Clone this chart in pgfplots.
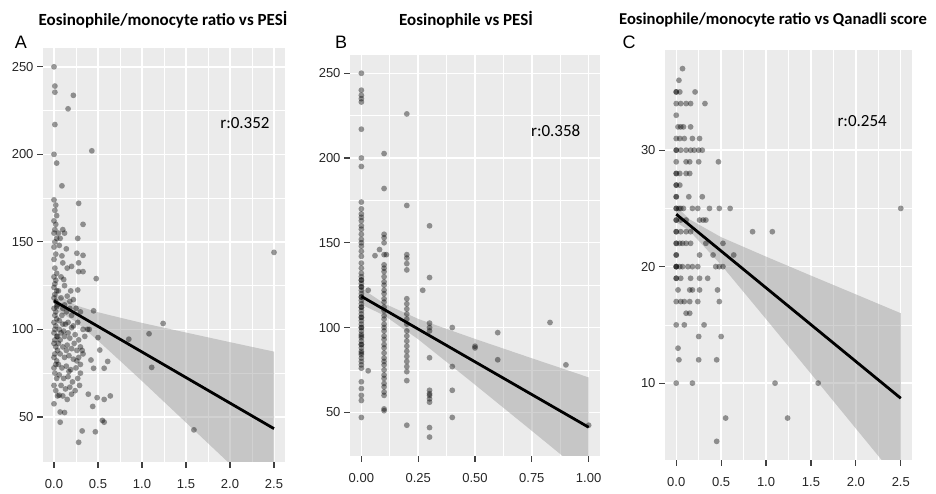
\documentclass[border=0pt]{standalone}
\usepackage{pgfplots}
\pgfplotsset{compat=1.18}
\usepackage{fontspec}
\setmainfont{Liberation Sans}
\newfontfamily\calib{Carlito}
\definecolor{ggbg}{HTML}{EBEBEB}
\definecolor{ggband}{HTML}{999999}

\pgfplotsset{
  ggpanel/.style={
    scale only axis,
    anchor=south west,
    axis background/.style={fill=ggbg},
    axis line style={draw=none},
    grid=both,
    minor tick num=1,
    major grid style={white, line width=1.4pt},
    minor grid style={white, line width=0.7pt},
    tick align=outside,
    major tick length=6pt,
    minor tick length=0pt,
    tick style={black!75, line width=1.2pt},
    tick label style={font=\fontsize{13}{13}\selectfont, text=black!85},
    xticklabel style={yshift=-8pt},
    /pgf/number format/assume math mode=true,
    xtick pos=bottom, ytick pos=left,
  },
  pts/.style={only marks, mark=*, mark size=2.9pt,
    mark options={draw opacity=0, fill=black, fill opacity=0.4}},
  band/.style={draw=none, fill=ggband, fill opacity=0.45},
  fit/.style={black, line width=2.8pt, no marks},
}

\begin{document}
\begin{tikzpicture}
\path[use as bounding box] (0pt,0pt) rectangle (936pt,494pt);

% ---------- A ----------
\begin{axis}[ggpanel, at={(43pt,32pt)}, width=242pt, height=414pt,
  xmin=-0.125, xmax=2.625, ymin=24.25, ymax=260.75,
  xtick={0,0.5,1,1.5,2,2.5}, xticklabels={0.0,0.5,1.0,1.5,2.0,2.5},
  ytick={50,100,150,200,250}]
\addplot[pts] coordinates {
(0,250)(0.01,239)(0.01,235.5)(0.22,233.7)(0.16,226)(0.01,217)(0.43,202)(0,200)(0.03,195)
(0.09,182)(0.28,172)(0.33,160)(0.1,157)(0.27,152)(0.14,146)(0.26,143.5)(0.33,142.3)(0.09,142)
(0.1,138)(0.2,136)(0.28,138)(0.28,133)(0.33,133)(0.48,129)(0.11,128.5)(0.19,122)(0.27,122.5)
(0.45,110.6)(0.4,100)(1.24,103.4)(1.08,97.5)(0.85,94.4)(1.11,78.3)(1.59,42.6)(2.5,144)
(0,174)(0.02,171)(0.01,168)(0.03,165)(0,162)(0.02,160)(0.01,157)(0,155)(0.03,152)(0.01,150)
(0,147)(0.02,143)(0,140)(0.01,135)(0.03,132)(0,130)(0.02,128)(0.01,126)(0,124)(0.03,122)
(0.01,120)(0,118)(0.02,116)(0.04,114)(0,112)(0.02,110)(0.01,108)(0.03,106)(0,104)(0.02,102)
(0.01,100)(0,98)(0.03,96)(0.01,94)(0,92)(0.02,90)(0.04,88)(0.01,86)(0,84)(0.03,82)(0.02,80)
(0,78)(0.01,75)(0.03,72)(0,68)(0.02,65)(0.04,62)(0,57.5)(0.06,62.4)(0.07,52.8)(0.12,52.5)(0.07,47)
(0.05,155)(0.07,152)(0.06,148)(0.12,155)(0.15,135)(0.08,130)(0.12,125)(0.05,122)(0.08,118)
(0.15,119)(0.18,116)(0.22,117)(0.1,112)(0.14,110)(0.2,108)(0.25,112)(0.3,110)(0.06,105)
(0.1,103)(0.16,104)(0.22,102)(0.27,104)(0.33,100)(0.08,98)(0.12,96)(0.18,95)(0.24,97)(0.28,94)
(0.35,96)(0.05,92)(0.1,90)(0.15,91)(0.2,89)(0.26,88)(0.3,90)(0.07,86)(0.12,84)(0.17,85)
(0.22,83)(0.28,84)(0.33,86)(0.05,80)(0.09,78)(0.14,79)(0.19,77)(0.25,78)(0.3,80)(0.06,74)
(0.11,72)(0.16,73)(0.21,70)(0.27,72)(0.08,68)(0.13,66)(0.18,67)(0.24,65)(0.29,68)(0.1,62)
(0.15,60)(0.2,63)(0.3,75)(0.32,88)(0.04,96)(0.06,100)(0.09,108)(0.12,114)(0.16,98)(0.2,101)
(0.23,92)(0.26,82)(0.14,88)(0.17,76)(0.07,94)(0.11,99)(0.13,103)(0.18,112)(0.03,113)
(0.5,95.3)(0.52,88.2)(0.42,82.5)(0.61,81.7)(0.45,77.8)(0.57,77.8)(0.39,63)(0.49,61)(0.57,60)
(0.64,62)(0.44,56)(0.57,47)(0.32,42)(0.47,41.5)(0.28,35.5)(0.38,100)(0.55,48)
};
\addplot[band] coordinates {(0,120.9)(0.25,113.7)(0.5,109.8)(0.75,106.7)(1,103.7)(1.5,98.2)
  (2,92.7)(2.5,87.3)(2.5,-0.7)(2,23.1)(1.5,46.8)(1,70.5)(0.75,82.1)(0.5,93.6)(0.25,104.3)(0,111.7)} --cycle;
\addplot[fit] coordinates {(0,116.3)(2.5,43.3)};
\node[font=\calib\fontsize{17}{17}\selectfont] at (axis cs:2.17,218) {r:0.352};
\end{axis}

% ---------- B ----------
\begin{axis}[ggpanel, at={(350pt,38pt)}, width=250pt, height=401pt,
  xmin=-0.05, xmax=1.05, ymin=24.25, ymax=260.75,
  xtick={0,0.25,0.5,0.75,1}, xticklabels={0.00,0.25,0.50,0.75,1.00},
  ytick={50,100,150,200,250}]
\addplot[pts] coordinates {
(0,250)(0,240)(0,237)(0,235)(0,233)(0,217)(0,200)(0,195)
(0,174)(0,170)(0,167)(0,165)(0,163)(0,160)(0,158)(0,155)(0,152)(0,150)(0,148)(0,145)(0,142)
(0,138)(0,135)(0,132)(0,130)(0,128)(0,126)(0,124)(0,122)(0,120)(0,118)(0,116)(0,114)(0,112)
(0,110)(0,108)(0,106)(0,104)(0,102)(0,100)(0,98)(0,96)(0,94)(0,92)(0,90)(0,88)(0,86)(0,84)
(0,82)(0,80)(0,78)(0,76)(0,128)(0,124)(0,118)(0,112)(0,106)(0,100)(0,95)(0,90)(0,85)
(0,68)(0,64)(0,60)(0,57)(0,47)
(0.03,122)(0.03,74.5)(0.06,142.4)(0.08,146)(0.11,143)(0.27,122)
(0.1,202.6)(0.1,182)(0.1,155)(0.1,153)(0.1,150)(0.1,143)(0.1,137)(0.1,135)(0.1,133)(0.1,130)
(0.1,127)(0.1,125)(0.1,122)(0.1,120)(0.1,117)(0.1,115)(0.1,112)(0.1,110)(0.1,107)(0.1,105)
(0.1,102)(0.1,100)(0.1,98)(0.1,95)(0.1,93)(0.1,90)(0.1,88)(0.1,85)(0.1,82)(0.1,80)(0.1,78)
(0.1,75)(0.1,72)(0.1,70)(0.1,67)(0.1,65)(0.1,62)(0.1,60)(0.1,52)(0.1,51)
(0.2,226)(0.2,172)(0.2,143)(0.2,141)(0.2,137.7)(0.2,134)(0.2,117)(0.2,114)(0.2,111)(0.2,108)
(0.2,105)(0.2,102)(0.2,98)(0.2,95)(0.2,92)(0.2,89)(0.2,86)(0.2,83)(0.2,80)(0.2,77)(0.2,74)
(0.2,68.7)(0.2,42.4)
(0.3,160)(0.3,129.5)(0.3,102.6)(0.3,100)(0.3,98)(0.3,82.2)(0.3,63)(0.3,61)(0.3,60)(0.3,58)
(0.3,56)(0.3,41)(0.3,35.4)
(0.4,100)(0.4,77)(0.4,63)(0.4,47)(0.5,89)(0.5,88)(0.6,97)(0.6,81)(0.83,103)(0.9,78)(1,42.4)
};
\addplot[band] coordinates {(0,123.2)(0.1,114.2)(0.25,105.1)(0.5,93.3)(0.75,81.9)(1,70.6)
  (1,11.7)(0.75,39.1)(0.5,66.3)(0.25,93.1)(0.1,107.2)(0,113.6)} --cycle;
\addplot[fit] coordinates {(0,118.4)(1,41.2)};
\node[font=\calib\fontsize{17}{17}\selectfont] at (axis cs:0.855,216) {r:0.358};
\end{axis}

% ---------- C ----------
\begin{axis}[ggpanel, at={(665pt,34pt)}, width=247pt, height=410pt,
  xmin=-0.125, xmax=2.625, ymin=3.4, ymax=38.6,
  xtick={0,0.5,1,1.5,2,2.5}, xticklabels={0.0,0.5,1.0,1.5,2.0,2.5},
  ytick={10,20,30}]
\addplot[pts] coordinates {
(0.07,37)(0.03,36)(0,35)(0,35)(0.04,35)(0.21,35)
(0,34)(0.05,34)(0.11,34)(0.16,34)(0.32,34)(0,33)
(0.02,32)(0.05,32)(0.08,32)(0.16,32)
(0,31)(0.04,31)(0.09,31)(0.18,31)(0.26,31)
(0,30)(0,30)(0.05,30)(0.11,30)(0.16,30)(0.2,30)(0.25,30)(0.29,30)
(0,29)(0.11,29)(0.15,29)(0.25,29)(0.47,29)
(0,28)(0,28)(0.04,28)(0.11,28)(0.15,28)
(0,27)(0,27)(0.04,27)
(0,26)(0,26)(0.14,26)(0.29,26)
(0,25)(0,25)(0.03,25)(0.05,25)(0.08,25)(0.18,25)(0.24,25)(0.37,25)(0.48,25)(0.6,25)(2.5,25)
(0,24)(0,24)(0.05,24)(0.11,24)(0.26,24)(0.3,24)(0.33,24)
(0,23)(0,23)(0.05,23)(0.11,23)(0.16,23)(0.85,23)(1.07,23)
(0,22)(0,22)(0.04,22)(0.07,22)(0.11,22)(0.16,22)(0.33,22)(0.52,22)
(0,21)(0,21)(0.26,21)(0.41,21)(0.64,21)
(0,20)(0,20)(0,20)(0.04,20)(0.07,20)(0.13,20)(0.18,20)(0.24,20)(0.44,20)(0.48,20)(0.52,20)
(0,19)(0,19)(0.05,19)(0.16,19)(0.26,19)(0.35,19)
(0.02,18)(0.15,18)(0.18,18)(0.26,18)(0.46,18)
(0,17)(0.05,17)(0.09,17)(0.15,17)(0.24,17)(0.48,17)
(0.11,16)(0.15,16)(0,15)(0.09,15)(0.31,15)(0.25,14)(0.5,14)(0.02,13)
(0.03,12)(0.25,12)(0.45,12)(0,10)(0.18,10)(1.1,10)(1.58,10)(0.55,7)(1.24,7)(0.45,5)
};
\addplot[band] coordinates {(0,25.18)(0.15,24.05)(0.5,22.53)(1,20.86)(1.5,19.23)(2,17.62)(2.5,16.0)
  (2.5,1.4)(2,6.1)(1.5,10.81)(1,15.5)(0.5,20.15)(0.15,23.05)(0,23.82)} --cycle;
\addplot[fit] coordinates {(0,24.5)(2.5,8.7)};
\node[font=\calib\fontsize{17}{17}\selectfont] at (axis cs:2.07,32.5) {r:0.254};
\end{axis}

% titles and panel letters
\node[font=\calib\bfseries\fontsize{17}{17}\selectfont] at (163pt,474pt) {Eosinophile/monocyte ratio vs PESİ};
\node[font=\calib\bfseries\fontsize{17}{17}\selectfont] at (466pt,474pt) {Eosinophile vs PESİ};
\node[font=\calib\bfseries\fontsize{16.6}{17}\selectfont] at (773pt,474pt) {Eosinophile/monocyte ratio vs Qanadli score};
\node[font=\fontsize{18}{18}\selectfont] at (21pt,452pt) {A};
\node[font=\fontsize{18}{18}\selectfont] at (341pt,452pt) {B};
\node[font=\fontsize{18}{18}\selectfont] at (629pt,452pt) {C};
\end{tikzpicture}
\end{document}
